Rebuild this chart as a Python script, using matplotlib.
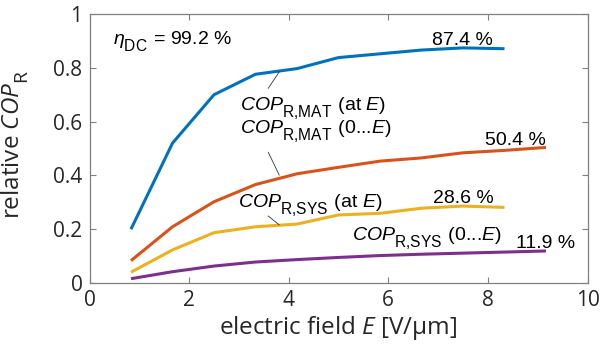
import matplotlib
matplotlib.use("Agg")
import matplotlib.pyplot as plt
import matplotlib._mathtext as mathtext_impl

# Electric field steps [V/um]
e_field = [0.833, 1.667, 2.5, 3.333, 4.167, 5.0, 5.833, 6.667, 7.5, 8.333, 9.167]

# Relative coefficient of performance
cop_mat_at = [0.20, 0.52, 0.70, 0.776, 0.797, 0.838, 0.852, 0.866, 0.874, 0.871]
cop_mat_int = [0.083, 0.209, 0.302, 0.366, 0.406, 0.430, 0.453, 0.465, 0.484, 0.493, 0.504]
cop_sys_at = [0.040, 0.123, 0.187, 0.209, 0.219, 0.253, 0.259, 0.278, 0.286, 0.281]
cop_sys_int = [0.016, 0.042, 0.063, 0.078, 0.087, 0.095, 0.102, 0.107, 0.111, 0.115, 0.119]

eta_dc = 99.2

x_ticks = [0, 2, 4, 6, 8, 10]
y_ticks = [0, 0.2, 0.4, 0.6, 0.8, 1]

colors = ["#0072BD", "#D95319", "#EDB120", "#7E2F8E"]

# Larger, lower subscripts
mathtext_impl.SHRINK_FACTOR = 0.8
mathtext_impl.FontConstantsBase.sub1 = 0.72
mathtext_impl.FontConstantsBase.script_space = 0.15

plt.rcParams["mathtext.fontset"] = "custom"
plt.rcParams["mathtext.rm"] = "Liberation Sans"
plt.rcParams["mathtext.it"] = "Liberation Sans:italic"
plt.rcParams["mathtext.sf"] = "Open Sans:italic"
plt.rcParams["mathtext.tt"] = "Open Sans"

fig = plt.figure(figsize=(6.01, 3.52), dpi=100)
ax = fig.add_axes([89.5 / 601, 1 - 283 / 352, (587.5 - 89.5) / 601, (283 - 14) / 352])

series = [cop_mat_at, cop_mat_int, cop_sys_at, cop_sys_int]
for vals, c in zip(series, colors):
    ax.plot(e_field[:len(vals)], vals, color=c, lw=2.2, solid_joinstyle="round",
            solid_capstyle="butt", zorder=3)

ax.set_xlim(0, 10)
ax.set_ylim(0, 1)
ax.set_xticks(x_ticks)
ax.set_yticks(y_ticks)
ax.set_xticklabels([f"{v:g}" for v in x_ticks])
ax.set_yticklabels([f"{v:g}" for v in y_ticks])

axis_gray = "#808080"
for s in ax.spines.values():
    s.set_color(axis_gray)
    s.set_linewidth(0.9)
ax.tick_params(direction="in", length=4, width=0.8, color=axis_gray,
               top=True, right=True, labelsize=15, labelcolor="#262626", pad=5)
for lbl in ax.get_xticklabels() + ax.get_yticklabels():
    lbl.set_fontfamily("Open Sans")

ax.set_xlabel(r"electric field $\mathsf{E}$ [V/μm]", fontsize=17.5,
              fontfamily="Open Sans", color="#262626", labelpad=2)
ax.set_ylabel(r"relative $\mathsf{COP}_\mathtt{R}$", fontsize=17.5,
              fontfamily="Open Sans", color="#262626", labelpad=3)
ax.yaxis.set_label_coords(-0.118, 0.515)

txt = dict(fontsize=14, fontfamily="Liberation Sans", color="black", zorder=5)

ax.text(0.47, 0.885, r"$\eta_\mathrm{DC}$ = " + f"{eta_dc:.1f} %", **txt)

# Curve labels with leader lines
ax.text(3.02, 0.645, r"$COP_\mathrm{R{,}MAT}$ (at $E$)", **txt)
ax.plot([3.59, 3.81], [0.724, 0.785], color="#333333", lw=0.6, zorder=4)

ax.text(3.02, 0.557, r"$COP_\mathrm{R{,}MAT}$ (0...$E$)", **txt)
ax.plot([3.59, 3.81], [0.486, 0.401], color="#333333", lw=0.6, zorder=4)

ax.text(2.99, 0.284, r"$COP_\mathrm{R{,}SYS}$ (at $E$)", **txt)
ax.plot([3.59, 3.81], [0.249, 0.216], color="#333333", lw=0.6, zorder=4)

ax.text(5.28, 0.160, r"$COP_\mathrm{R{,}SYS}$ (0...$E$)", **txt)

# End values in percent
ax.text(7.48, 0.885, f"{cop_mat_at[8] * 100:.1f} %", ha="center", **txt)
ax.text(8.55, 0.514, f"{cop_mat_int[-1] * 100:.1f} %", ha="center", **txt)
ax.text(7.5, 0.296, f"{cop_sys_at[8] * 100:.1f} %", ha="center", **txt)
ax.text(9.16, 0.129, f"{cop_sys_int[-1] * 100:.1f} %", ha="center", **txt)

fig.savefig("out.png", dpi=100)
